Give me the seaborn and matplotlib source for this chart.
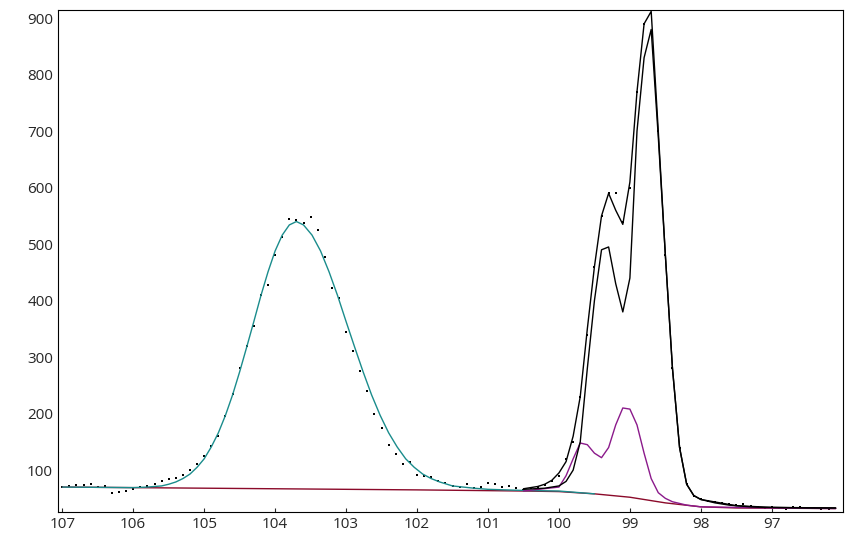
import numpy as np
import pandas as pd
import seaborn as sns
import matplotlib.pyplot as plt

# measured points, 107.0 down to 96.2 in 0.1 eV steps
dot_x = np.round(np.arange(107.0, 96.15, -0.1), 1)
dot_y = [70, 72, 74, 73, 76, 70, 72, 60, 62, 63, 66,
         70, 72, 75, 80, 84, 86, 92, 100, 110, 125,
         143, 160, 195, 235, 280, 320, 355, 410, 428, 480,
         512, 545, 543, 538, 548, 525, 478, 422, 405, 345,
         310, 275, 240, 200, 175, 145, 128, 110, 115, 92,
         90, 88, 80, 78, 72, 70, 75, 68, 70, 78,
         75, 70, 72, 68, 65, 68, 70, 74, 80, 90,
         120, 150, 230, 340, 460, 550, 590, 590, 540, 600,
         770, 890, 915, 700, 480, 280, 140, 75, 55, 48,
         45, 44, 42, 40, 38, 40, 36, 35, 33, 34,
         33, 32, 35, 34, 33, 33, 32, 32]

# gaussian component (teal)
g_x = [107.0, 106.5, 106.0, 105.8, 105.6, 105.5, 105.4, 105.3, 105.2, 105.1, 105.0,
       104.9, 104.8, 104.7, 104.6, 104.5, 104.4, 104.3, 104.2, 104.1, 104.0,
       103.9, 103.8, 103.7, 103.6, 103.48, 103.36, 103.24, 103.12, 103.0, 102.88,
       102.76, 102.64, 102.52, 102.4, 102.28, 102.16, 102.04, 101.92, 101.8, 101.68,
       101.5, 101.2, 101.0, 100.5, 100.0, 99.5]
g_y = [70, 69.5, 69, 70, 72, 75, 79, 85, 93, 105, 120,
       141, 166, 197, 233, 274, 318, 363, 409, 451, 488,
       516, 534, 540, 534, 516, 488, 451, 409, 363, 318,
       274, 233, 197, 166, 141, 120, 105, 93, 85, 79,
       72, 68, 66, 64, 63, 58]

# envelope (upper black)
env_x = [100.5, 100.4, 100.3, 100.2, 100.1, 100.0, 99.9, 99.8, 99.7, 99.6, 99.5, 99.4,
         99.3, 99.2, 99.1, 99.0, 98.9, 98.8, 98.7, 98.6, 98.5, 98.4, 98.3, 98.2, 98.1,
         98.0, 97.9, 97.8, 97.7, 97.6, 97.5, 97.4, 97.3, 97.2, 97.1, 97.0, 96.5, 96.1]
env_y = [67, 69, 71, 75, 82, 95, 115, 160, 230, 350, 460, 550,
         590, 560, 535, 610, 770, 890, 912, 700, 480, 280, 140, 75, 55,
         48, 45, 42, 40, 38, 37, 36, 35, 34.5, 34, 34, 33, 33]

# second component (lower black)
c2_x = [100.5, 100.2, 100.0, 99.9, 99.8, 99.7, 99.6, 99.5, 99.4, 99.3, 99.2, 99.1,
        99.0, 98.9, 98.8, 98.7, 98.6, 98.5, 98.4, 98.3, 98.2, 98.1, 98.0, 97.5, 97.0, 96.1]
c2_y = [66, 68, 72, 80, 100, 150, 280, 400, 490, 495, 430, 380,
        440, 700, 830, 880, 690, 480, 280, 140, 75, 55, 48, 37, 34, 33]

# purple component
p_x = [100.5, 100.0, 99.9, 99.8, 99.7, 99.6, 99.5, 99.4, 99.3, 99.2, 99.1, 99.0,
       98.9, 98.8, 98.7, 98.6, 98.5, 98.4, 98.2, 98.0, 97.0, 96.1]
p_y = [63, 70, 90, 120, 148, 145, 130, 122, 140, 180, 210, 208,
       180, 130, 85, 60, 50, 44, 38, 35, 33, 32]

# background
bg_x = [107.0, 104.0, 102.0, 100.5, 100.0, 99.5, 99.0, 98.5, 98.0, 97.5, 96.1]
bg_y = [70, 67, 65, 63, 62, 58, 52, 42, 35, 33, 32]

sns.set_style("white")
plt.rcParams['font.family'] = ['Open Sans', 'DejaVu Sans']
fig = plt.figure(figsize=(8.53, 5.40), dpi=100)
ax = fig.add_axes([0.068, 0.052, 0.92, 0.929])

sns.lineplot(x=bg_x, y=bg_y, sort=False, color="#8b0a2a", lw=1, ax=ax)
sns.lineplot(x=g_x, y=g_y, sort=False, color="#1a8c8c", lw=1, ax=ax)
sns.lineplot(x=p_x, y=p_y, sort=False, color="#8b1a8b", lw=1, ax=ax)
sns.lineplot(x=c2_x, y=c2_y, sort=False, color="black", lw=1, ax=ax)
sns.lineplot(x=env_x, y=env_y, sort=False, color="black", lw=1, ax=ax)
sns.scatterplot(x=dot_x, y=dot_y, color="black", s=3, marker="s", linewidth=0, ax=ax)

ax.set_xlim(107.06, 96.0)
ax.set_ylim(26, 914)
ax.set_xticks(range(97, 108))
ax.set_yticks(range(100, 901, 100))
ax.tick_params(labelsize=11, length=3, direction="in", bottom=True, left=False)
for s in ax.spines.values():
    s.set_color("black")
    s.set_linewidth(0.8)
fig.savefig("out.png", dpi=100)
